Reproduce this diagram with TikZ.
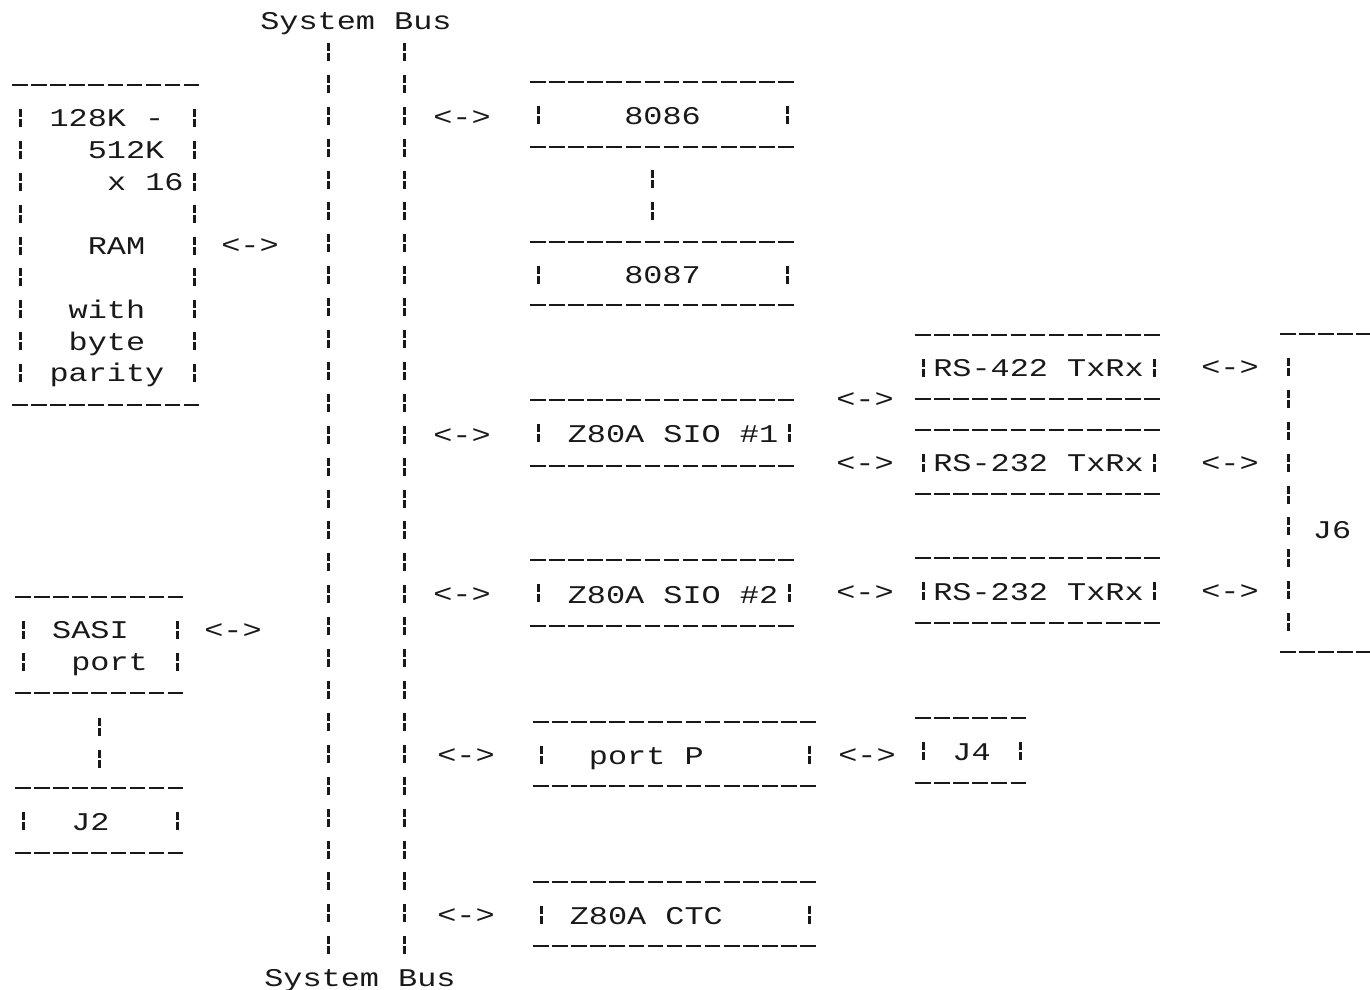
\documentclass[tikz,border=0pt]{standalone}
\usepackage{fontspec}
\newfontfamily\dotfont{Liberation Mono}[FakeStretch=1.25]
\definecolor{ink}{gray}{0.1}
\begin{document}
\begin{tikzpicture}[x=1pt,y=1pt,
  every node/.style={text=ink},
  dot/.style={font={\dotfont\fontsize{25.5}{31.9}\selectfont}, inner sep=0pt, outer sep=0pt},
  hrule/.style={draw=ink, line width=2.7pt, dash pattern=on 15.5pt off 3.6pt},
  vrule/.style={draw=ink, line width=3pt, dash pattern=on 8pt off 2pt on 8pt off 13.9pt},
  abox/.style={dot, rectangle, append after command={
      (\tikzlastnode.north west) edge[hrule] (\tikzlastnode.north east)
      (\tikzlastnode.south west) edge[hrule] (\tikzlastnode.south east)
      ([shift={(8pt,-24pt)}]\tikzlastnode.north west) edge[vrule] ([shift={(8pt,14pt)}]\tikzlastnode.south west)
      ([shift={(-8pt,-24pt)}]\tikzlastnode.north east) edge[vrule] ([shift={(-8pt,14pt)}]\tikzlastnode.south east)}},
  onerow/.style={abox, text height=20pt, text depth=0pt},
  lbl/.style={dot, anchor=base}]
\fill[white] (0,0) rectangle (1370,989);
\useasboundingbox (0,0) rectangle (1370,989);

% system bus
\node[lbl] (sbtop) at (356,959.5) {System Bus};
\node[lbl] (sbbot) at (360,2.5) {System Bus};
\coordinate (busLt) at (328,946);
\coordinate (busLb) at (328,29);
\coordinate (busRt) at (404,946);
\coordinate (busRb) at (404,29);
\draw[vrule] (busLt) -- (busLb);
\draw[vrule] (busRt) -- (busRb);

% left column
\node[abox, minimum width=190pt, minimum height=320pt] (ram) at (107,744)
  {\begin{tabular}{@{}c@{}}
   \rule{0pt}{28.3pt}\mbox{\ 128K\ -\ }\\
   \mbox{\ \ \ 512K\ }\\
   \mbox{\ \ \ \ x\ 16}\\
   \\
   \mbox{\ \ \ RAM\ \ }\\
   \\
   \mbox{\ \ with\ \ }\\
   \mbox{\ \ byte\ \ }\\
   \mbox{\ parity\ }
   \end{tabular}};
\node[abox, minimum width=170pt, minimum height=96pt] (sasi) at (100,344)
  {\begin{tabular}{@{}c@{}}
   \rule{0pt}{28.3pt}\mbox{\ SASI\ \ }\\
   \mbox{\ \ port\ }
   \end{tabular}};
\node[onerow, minimum width=170pt, minimum height=65pt] (jtwo) at (100,168.5) {\mbox{\ \ J2\ \ \ }};
\draw[vrule] ([xshift=-1pt,yshift=-25pt]sasi.south) -- ([xshift=-1pt,yshift=18pt]jtwo.north);

% middle column
\node[onerow, minimum width=265pt, minimum height=65pt] (cpu) at (662.5,874.5) {\mbox{\ \ \ \ 8086\ \ \ \ }};
\node[onerow, minimum width=265pt, minimum height=63pt] (fpu) at (662.5,715.5) {\mbox{\ \ \ \ 8087\ \ \ \ }};
\draw[vrule] ([xshift=-10.5pt,yshift=-23pt]cpu.south) -- ([xshift=-10.5pt,yshift=18pt]fpu.north);
\node[onerow, minimum width=267pt, minimum height=66pt] (sioa) at (663.5,556) {\mbox{\ Z80A\ SIO\ \#1}};
\node[onerow, minimum width=267pt, minimum height=66pt] (siob) at (663.5,396) {\mbox{\ Z80A\ SIO\ \#2}};
\node[onerow, minimum width=284pt, minimum height=64pt] (portp) at (675,235) {\mbox{\ \ port\ P\ \ \ \ \ }};
\node[onerow, minimum width=284pt, minimum height=64pt] (ctc) at (675,75) {\mbox{\ Z80A\ CTC\ \ \ \ }};

% right column
\node[onerow, minimum width=247pt, minimum height=64pt] (rsa) at (1038.5,622) {\mbox{RS-422\ TxRx}};
\node[onerow, minimum width=247pt, minimum height=64pt] (rsb) at (1038.5,527) {\mbox{RS-232\ TxRx}};
\node[onerow, minimum width=247pt, minimum height=65pt] (rsc) at (1038.5,398.5) {\mbox{RS-232\ TxRx}};
\node[onerow, minimum width=113pt, minimum height=65pt] (jfour) at (971.5,238.5) {\mbox{\ J4\ }};
\node[abox, minimum width=115pt, minimum height=318pt] (jsix) at (1337.5,496) {};
\node[lbl] (jsixt) at (1332,450.5) {J6};

% bidirectional links
\node[lbl] (lram) at (250,735.5) {<->};
\node[lbl] (lsasi) at (233,350.5) {<->};
\node[lbl] (lcpu) at (462,863.5) {<->};
\node[lbl] (lsioa) at (462,545.5) {<->};
\node[lbl] (lsiob) at (462,386.5) {<->};
\node[lbl] (lport) at (466,225.5) {<->};
\node[lbl] (lctc) at (466,65.5) {<->};
\node[lbl] (lrsa) at (865,581.5) {<->};
\node[lbl] (lrsb) at (865,517.5) {<->};
\node[lbl] (lrsc) at (865,388.5) {<->};
\node[lbl] (ljfour) at (867,225.5) {<->};
\node[lbl] (ljsa) at (1230,613.5) {<->};
\node[lbl] (ljsb) at (1230,517.5) {<->};
\node[lbl] (ljsc) at (1230,389.5) {<->};
\end{tikzpicture}
\end{document}
